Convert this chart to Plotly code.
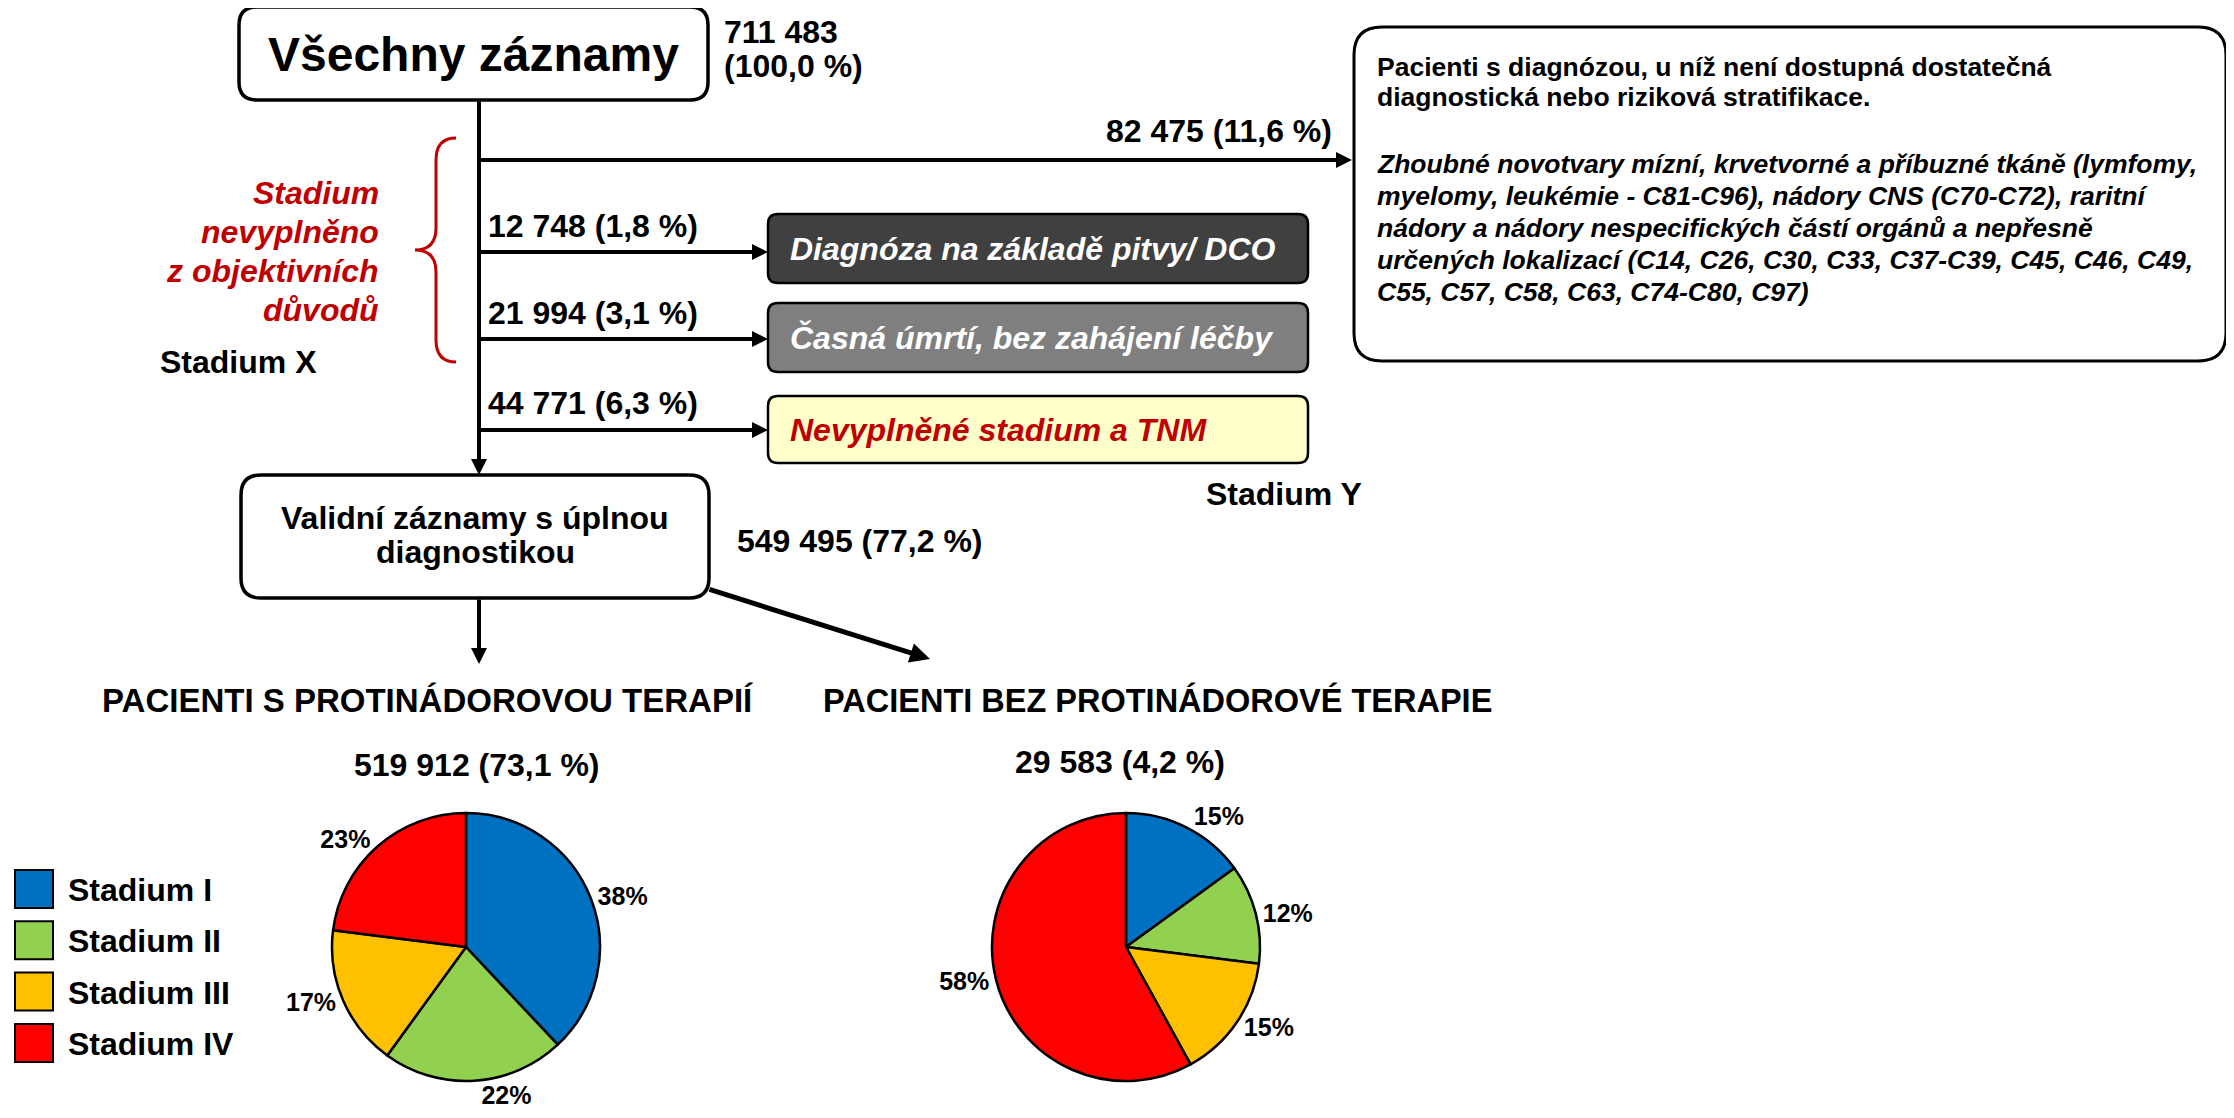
import plotly.graph_objects as go

W, H = 2234, 1118
OFF = 8  # page body margin compensation
FONT = "Liberation Sans, Arial, sans-serif"

# ---------------- data ----------------
stages = ["Stadium I", "Stadium II", "Stadium III", "Stadium IV"]
stage_colors = ["#0070C0", "#92D050", "#FFC000", "#FF0000"]
pct_with_therapy = [38, 22, 17, 23]
pct_without_therapy = [15, 12, 15, 58]

total_title = "Všechny záznamy"
total_records = "711 483"
total_pct = "(100,0 %)"
branch_labels = ["82 475 (11,6 %)", "12 748 (1,8 %)", "21 994 (3,1 %)", "44 771 (6,3 %)"]
box_labels = ["Diagnóza na základě pitvy/ DCO", "Časná úmrtí, bez zahájení léčby", "Nevyplněné stadium a TNM"]
box_fills = ["#404040", "#7F7F7F", "#FFFFCC"]
box_text_colors = ["#FFFFFF", "#FFFFFF", "#C00000"]
bracket_lines = ["Stadium", "nevyplněno", "z objektivních", "důvodů"]
valid_lines = ["Validní záznamy s úplnou", "diagnostikou"]
valid_label = "549 495 (77,2 %)"
therapy_title = "PACIENTI S PROTINÁDOROVOU TERAPIÍ"
no_therapy_title = "PACIENTI BEZ PROTINÁDOROVÉ TERAPIE"
therapy_count = "519 912 (73,1 %)"
no_therapy_count = "29 583 (4,2 %)"
info_bold = ["Pacienti s diagnózou, u níž není dostupná dostatečná",
             "diagnostická nebo riziková stratifikace."]
info_italic = ["Zhoubné novotvary mízní, krvetvorné a příbuzné tkáně (lymfomy,",
               "myelomy, leukémie - C81-C96), nádory CNS (C70-C72), raritní",
               "nádory a nádory nespecifických částí orgánů a nepřesně",
               "určených lokalizací (C14, C26, C30, C33, C37-C39, C45, C46, C49,",
               "C55, C57, C58, C63, C74-C80, C97)"]

# ---------------- helpers ----------------
shapes = []
annotations = []


def rrect(x0, y0, x1, y1, r, fill="white", lw=3, line="black"):
    p = (f"M {x0+r},{y0} L {x1-r},{y0} Q {x1},{y0} {x1},{y0+r} "
         f"L {x1},{y1-r} Q {x1},{y1} {x1-r},{y1} L {x0+r},{y1} "
         f"Q {x0},{y1} {x0},{y1-r} L {x0},{y0+r} Q {x0},{y0} {x0+r},{y0} Z")
    shapes.append(dict(type="path", path=p, xref="x", yref="y",
                       fillcolor=fill, line=dict(color=line, width=lw), layer="below"))


def txt(x, y, s, size=32, color="black", xanchor="left", bold=True, italic=False):
    if italic:
        s = f"<i>{s}</i>"
    if bold:
        s = f"<b>{s}</b>"
    annotations.append(dict(x=x, y=y, xref="x", yref="y", text=s, showarrow=False,
                            xanchor=xanchor, yanchor="middle",
                            font=dict(family=FONT, size=size, color=color)))


def arrow(x0, y0, x1, y1, w=4):
    annotations.append(dict(x=x1, y=y1, ax=x0, ay=y0, xref="x", yref="y",
                            axref="x", ayref="y", text="", showarrow=True,
                            arrowhead=2, arrowsize=0.8, arrowwidth=w,
                            arrowcolor="black", standoff=0))


# ---------------- top part ----------------
rrect(239, 7, 708, 100, 18, lw=3.5)
txt(473, 54, total_title, size=48, xanchor="center")
txt(722, 32, total_records)
txt(722, 66, total_pct)

main_x = 479
arrow(main_x, 100, main_x, 475)

# branch to info box
arrow(main_x, 160, 1352, 160)
txt(1334, 131, branch_labels[0], xanchor="right")

rrect(1354, 27, 2226, 361, 28, lw=3)
for i, line in enumerate(info_bold):
    txt(1375, 67 + i * 30, line, size=26.5)
for i, line in enumerate(info_italic):
    txt(1375, 164 + i * 32, line, size=26.5, italic=True)

# three boxes
box_y = [(214, 283), (303, 372), (396, 463)]
branch_y = [252, 339, 430]
label_y = [226, 313, 403]
for k in range(3):
    y0, y1 = box_y[k]
    rrect(768, y0, 1308, y1, 10, fill=box_fills[k], lw=2.5)
    txt(788, (y0 + y1) / 2, box_labels[k], color=box_text_colors[k], italic=True)
    arrow(main_x, branch_y[k], 768, branch_y[k])
    txt(486, label_y[k], branch_labels[k + 1])

# red bracket
shapes.append(dict(type="path", xref="x", yref="y",
                   path="M 456,138 Q 436,138 436,160 L 436,228 Q 436,250 415,250 "
                        "Q 436,250 436,272 L 436,340 Q 436,362 456,362",
                   line=dict(color="#C00000", width=3)))
for i, line in enumerate(bracket_lines):
    txt(381, 193 + i * 39, line, color="#C00000", xanchor="right", italic=True)
txt(158, 362, "Stadium X")
txt(1204, 494, "Stadium Y")

# valid box
rrect(241, 475, 709, 598, 20, lw=3.5)
txt(475, 518, valid_lines[0], xanchor="center")
txt(475, 552, valid_lines[1], xanchor="center")
txt(735, 541, valid_label)
arrow(main_x, 598, main_x, 664)
arrow(708, 589, 930, 659, w=5)

# titles
txt(427, 700, therapy_title, size=33, xanchor="center")
txt(1157, 700, no_therapy_title, size=32.5, xanchor="center")
txt(477, 765, therapy_count, xanchor="center")
txt(1120, 762, no_therapy_count, xanchor="center")

# legend
for i, (s, c) in enumerate(zip(stages, stage_colors)):
    y0 = 870 + i * 51.3
    shapes.append(dict(type="rect", xref="x", yref="y", x0=15, x1=53, y0=y0, y1=y0 + 38,
                       fillcolor=c, line=dict(color="black", width=2)))
    txt(66, y0 + 20, s, size=32)

# ---------------- pies ----------------
R = 134


def dom(cx, cy):
    fx, fy = cx - OFF, cy - OFF
    return dict(x=[(fx - R) / W, (fx + R) / W], y=[(H - fy - R) / H, (H - fy + R) / H])


fig = go.Figure()
for vals, (cx, cy) in [(pct_with_therapy, (466, 947)), (pct_without_therapy, (1126, 947))]:
    fig.add_trace(go.Pie(values=vals, labels=stages, sort=False, direction="clockwise",
                         rotation=0, marker=dict(colors=stage_colors,
                                                 line=dict(color="black", width=2.5)),
                         textposition="outside", texttemplate="<b>%{value}%</b>",
                         outsidetextfont=dict(family=FONT, size=25, color="black"),
                         showlegend=False, domain=dom(cx, cy), hoverinfo="label+value"))

fig.update_layout(
    width=W, height=H, margin=dict(l=0, r=0, t=0, b=0),
    paper_bgcolor="white", plot_bgcolor="white",
    xaxis=dict(range=[OFF, W + OFF], visible=False, fixedrange=True),
    yaxis=dict(range=[H + OFF, OFF], visible=False, fixedrange=True),
    shapes=shapes, annotations=annotations, showlegend=False,
)
fig.write_html("out.html")
